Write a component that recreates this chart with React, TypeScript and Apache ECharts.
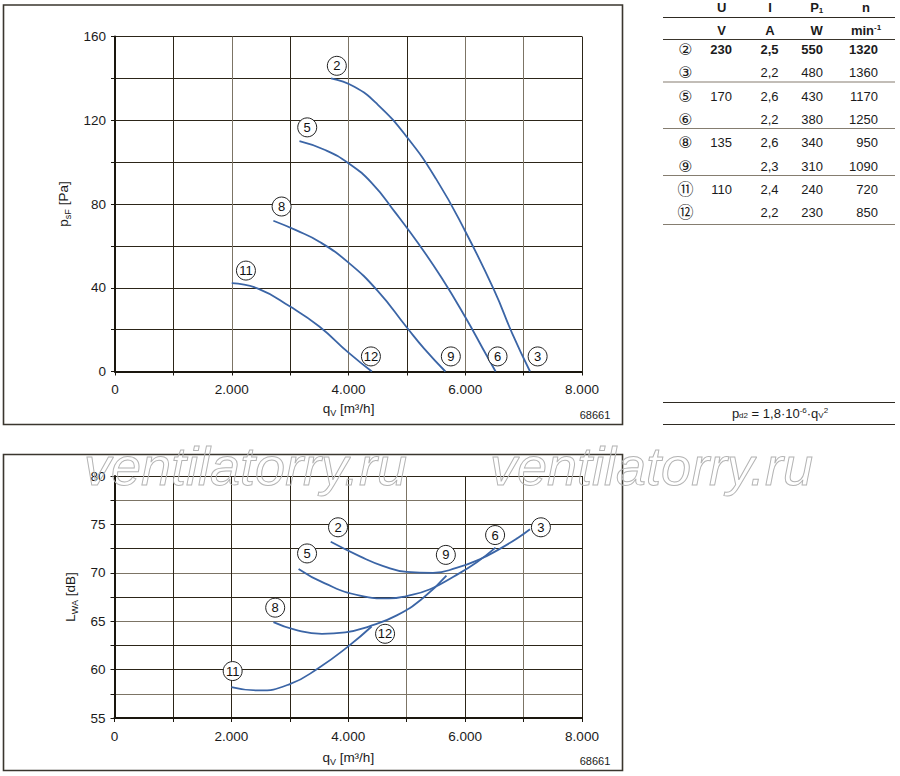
import React, { useEffect, useRef } from "react";
import * as echarts from "echarts";

// ---------- data ----------
// Pressure curves p_sF [Pa] vs q_V [m³/h]
const pressure2: [number, number][] = [[3700, 140], [4100, 136], [4500, 127.5], [5000, 112], [5500, 92], [6000, 67], [6500, 38.5], [6800, 18.5], [7110, 0]];
const pressure5: [number, number][] = [[3160, 110], [3600, 105.8], [4000, 99.5], [4400, 90], [4800, 76], [5200, 61], [5600, 44.5], [6000, 26], [6300, 11], [6520, 0]];
const pressure8: [number, number][] = [[2713, 72], [3100, 67.5], [3500, 62], [4000, 52], [4500, 38.5], [5000, 21], [5300, 10.8], [5660, 0]];
const pressure11: [number, number][] = [[2000, 42.2], [2450, 39.6], [3000, 31], [3500, 21.5], [4000, 9], [4400, 0]];

// Sound power curves L_WA [dB] vs q_V [m³/h]
const sound2: [number, number][] = [[3700, 73.2], [4200, 71.7], [4600, 70.7], [5000, 70.1], [5450, 70.0], [5850, 70.5], [6250, 71.4], [6600, 72.5], [6900, 73.6], [7110, 74.5]];
const sound5: [number, number][] = [[3150, 70.4], [3600, 68.9], [4200, 67.65], [4700, 67.35], [5000, 67.6], [5400, 68.3], [5800, 69.6], [6200, 71.1], [6520, 72.6]];
const sound8: [number, number][] = [[2720, 64.9], [3100, 64.1], [3550, 63.7], [3950, 63.85], [4350, 64.45], [4830, 65.6], [5280, 67.4], [5680, 69.7]];
const sound11: [number, number][] = [[2000, 58.2], [2450, 57.85], [3000, 58.5], [3500, 60.2], [4000, 62.4], [4400, 64.45]];

// Curve markers (q, value, number)
const pressureMarkers: [number, number, string][] = [[3800, 146, "2"], [3293, 116.6, "5"], [2854, 78.8, "8"], [2243, 48.2, "11"], [4384, 7.2, "12"], [5753, 7.2, "9"], [6553, 7.2, "6"], [7240, 7.2, "3"]];
const soundMarkers: [number, number, string][] = [[3825, 74.7, "2"], [3295, 72.0, "5"], [2750, 66.4, "8"], [2022, 59.85, "11"], [4630, 63.7, "12"], [5670, 71.85, "9"], [6513, 73.9, "6"], [7297, 74.7, "3"]];

// Axis ticks
const qTicks = [0, 1000, 2000, 3000, 4000, 5000, 6000, 7000, 8000];
const pressureTicks = [0, 40, 80, 120, 160];
const soundTicks = [55, 60, 65, 70, 75, 80];

// Table
const tableHeadTop = ["U", "I", "P", "n"];
const tableHeadUnit = ["V", "A", "W", "min"];
const tableCurve = ["②", "③", "⑤", "⑥", "⑧", "⑨", "⑪", "⑫"];
const tableU = ["230", "", "170", "", "135", "", "110", ""];
const tableI = ["2,5", "2,2", "2,6", "2,2", "2,6", "2,3", "2,4", "2,2"];
const tableP = ["550", "480", "430", "380", "340", "310", "240", "230"];
const tableN = ["1320", "1360", "1170", "1250", "950", "1090", "720", "850"];
const drawingNo = "68661";
const watermark = "ventilatorry.ru";

// ---------- style ----------
const FONT = '"Liberation Sans", Arial, Helvetica, sans-serif';
const CURVE = "#3b65a6";
const D = "#2c2518";
const G = "#7c7465";
const INK = "#1b1b1b";

const fmtQ = (v: number) => (v === 0 ? "0" : `${v / 1000}.000`);

function xAxis(gridIndex: number, colors: string[], nameGap: number) {
  return {
    type: "value",
    gridIndex,
    min: 0,
    max: 8000,
    interval: 1000,
    name: "{m|q}{s|V}{m| [m³/h]}",
    nameLocation: "middle",
    nameGap,
    nameTextStyle: {
      rich: {
        m: { fontSize: 13.5, fontFamily: FONT, color: INK, lineHeight: 18 },
        s: { fontSize: 9, fontFamily: FONT, color: INK, verticalAlign: "bottom", lineHeight: 10 },
      },
    },
    axisLine: { show: true, onZero: false, lineStyle: { color: "#1a160e", width: 2 } },
    axisTick: { show: true, length: 4, lineStyle: { color: "#1a160e", width: 1 } },
    axisLabel: {
      margin: 11,
      fontSize: 13.5,
      fontFamily: FONT,
      color: INK,
      formatter: (v: number) => (qTicks.indexOf(v) % 2 === 0 ? fmtQ(v) : ""),
    },
    splitLine: { show: true, lineStyle: { color: colors, width: 1 } },
  };
}

function yAxis(gridIndex: number, min: number, max: number, interval: number, labels: number[], name: string, colors: string[]) {
  return {
    type: "value",
    gridIndex,
    min,
    max,
    interval,
    name,
    nameLocation: "middle",
    nameGap: 34,
    nameTextStyle: {
      rich: {
        m: { fontSize: 13.5, fontFamily: FONT, color: INK, lineHeight: 18 },
        s: { fontSize: 9, fontFamily: FONT, color: INK, verticalAlign: "bottom", lineHeight: 10 },
      },
    },
    axisLine: { show: true, onZero: false, lineStyle: { color: "#1a160e", width: 2 } },
    axisTick: { show: true, length: 4, lineStyle: { color: "#1a160e", width: 1 } },
    axisLabel: {
      margin: 9,
      fontSize: 13.5,
      fontFamily: FONT,
      color: INK,
      formatter: (v: number) => (labels.indexOf(v) >= 0 ? String(v) : ""),
    },
    splitLine: { show: true, lineStyle: { color: colors, width: 1 } },
  };
}

function curve(data: [number, number][], idx: number) {
  return {
    type: "line",
    xAxisIndex: idx,
    yAxisIndex: idx,
    data,
    showSymbol: false,
    smooth: 0.5,
    silent: true,
    lineStyle: { color: CURVE, width: 1.8 },
    z: 3,
  };
}

function markers(data: [number, number, string][], idx: number) {
  return {
    type: "scatter",
    xAxisIndex: idx,
    yAxisIndex: idx,
    data,
    symbol: "circle",
    symbolSize: 19,
    silent: true,
    itemStyle: { color: "#ffffff", borderColor: "#222", borderWidth: 1, opacity: 1 },
    label: {
      show: true,
      position: "inside",
      formatter: (p: any) => p.value[2],
      fontSize: 13,
      fontFamily: FONT,
      color: "#111",
    },
    z: 4,
  };
}

function txt(text: string, x: number, y: number, opts: any = {}) {
  const align = opts.align || "center";
  return {
    type: "text",
    x,
    y,
    silent: true,
    z: 10,
    style: {
      text,
      fill: opts.fill || INK,
      font: `${opts.bold ? "bold " : ""}${opts.size || 13}px ${opts.family || FONT}`,
      align,
      textAlign: align,
      verticalAlign: "middle",
      textVerticalAlign: "middle",
      rich: opts.rich,
    },
  };
}

function hline(y: number, x1: number, x2: number, color: string, w = 1) {
  return { type: "line", silent: true, z: 9, shape: { x1, y1: y, x2, y2: y }, style: { stroke: color, lineWidth: w } };
}

function buildGraphics() {
  const g: any[] = [];
  // watermark (outlined)
  [84, 490].forEach((x) => {
    g.push({
      type: "text",
      x,
      y: 466,
      silent: true,
      z: 100,
      style: {
        legacy: false,
        text: watermark,
        font: `italic 54px ${FONT}`,
        fill: "none",
        stroke: "#b4b4b4",
        lineWidth: 1,
        align: "left",
        verticalAlign: "middle",
      },
    });
  });
  // frames
  g.push({ type: "rect", silent: true, z: 1, shape: { x: 3.5, y: 5, width: 619, height: 419.5 }, style: { fill: "none", stroke: "#3a362e", lineWidth: 1.6 } });
  g.push({ type: "rect", silent: true, z: 1, shape: { x: 3.5, y: 454.5, width: 619, height: 316 }, style: { fill: "none", stroke: "#3a362e", lineWidth: 1.6 } });
  // drawing number
  g.push(txt(drawingNo, 595, 415, { size: 11 }));
  g.push(txt(drawingNo, 595, 761, { size: 11 }));

  // table
  const colX = [721.7, 770, 816.7, 866];
  const richHead = {
    b: { fontSize: 13, fontWeight: "bold", fontFamily: FONT, fill: INK, color: INK },
    sub: { fontSize: 8, fontWeight: "bold", fontFamily: FONT, fill: INK, color: INK, verticalAlign: "bottom" },
    sup: { fontSize: 8, fontWeight: "bold", fontFamily: FONT, fill: INK, color: INK, verticalAlign: "top" },
  };
  tableHeadTop.forEach((h, i) => {
    const t = h === "P" ? "{b|P}{sub|1}" : `{b|${h}}`;
    g.push(txt(t, colX[i], 7.5, { rich: richHead }));
  });
  tableHeadUnit.forEach((h, i) => {
    const t = h === "min" ? "{b|min}{sup|-1}" : `{b|${h}}`;
    g.push(txt(t, colX[i], 30, { rich: richHead }));
  });
  g.push(hline(17.5, 663, 895, "#2e2a22", 1.2));
  g.push(hline(39.5, 663, 895, "#3a352c", 1.2));
  [82, 128.5, 175.5].forEach((y) => g.push(hline(y, 663, 895, "#857d70", 1.2)));
  g.push(hline(224.5, 663, 895, "#857d70", 1.2));

  tableCurve.forEach((c, i) => {
    const y = 49.5 + i * 23.35;
    const bold = i === 0;
    g.push(txt(c, 685.5, y, { size: 16, family: '"DejaVu Sans", "Noto Sans CJK SC", sans-serif' }));
    if (tableU[i]) g.push(txt(tableU[i], 732, y, { align: "right", bold }));
    g.push(txt(tableI[i], 778.5, y, { align: "right", bold }));
    g.push(txt(tableP[i], 823, y, { align: "right", bold }));
    g.push(txt(tableN[i], 878, y, { align: "right", bold }));
  });

  // formula
  g.push(hline(402.5, 663, 895, "#2e2a22", 1.2));
  g.push(hline(424.5, 663, 895, "#2e2a22", 1.2));
  g.push(
    txt("{m|p}{s|d2}{m| = 1,8·10}{u|-6}{m|·q}{s|V}{u|2}", 780, 413, {
      rich: {
        m: { fontSize: 13, fontFamily: FONT, fill: INK, color: INK },
        s: { fontSize: 8, fontFamily: FONT, fill: INK, color: INK, verticalAlign: "bottom" },
        u: { fontSize: 8, fontFamily: FONT, fill: INK, color: INK, verticalAlign: "top" },
      },
    })
  );
  return g;
}

export default function App() {
  const ref = useRef<HTMLDivElement>(null);
  useEffect(() => {
    if (!ref.current) return;
    const chart = echarts.init(ref.current, undefined, { renderer: "svg" });
    const option: any = {
      animation: false,
      backgroundColor: "#ffffff",
      textStyle: { fontFamily: FONT },
      grid: [
        { left: 115, top: 36.5, width: 467, height: 335 },
        { left: 114.5, top: 476, width: 467.5, height: 242 },
      ],
      xAxis: [xAxis(0, [D, D, G, D, G, D, G, G, D], 28), xAxis(1, [D, D, D, D, D, G, D, G, D], 30)],
      yAxis: [
        yAxis(0, 0, 160, 20, pressureTicks, "{m|p}{s|sF}{m| [Pa]}", [D]),
        yAxis(1, 55, 80, 2.5, soundTicks, "{m|L}{s|WA}{m| [dB]}", [D, G, D, D, G, D, G, D, D, G, D]),
      ],
      series: [
        curve(pressure2, 0),
        curve(pressure5, 0),
        curve(pressure8, 0),
        curve(pressure11, 0),
        markers(pressureMarkers, 0),
        curve(sound2, 1),
        curve(sound5, 1),
        curve(sound8, 1),
        curve(sound11, 1),
        markers(soundMarkers, 1),
      ],
      graphic: buildGraphics(),
    };
    chart.setOption(option);
    return () => chart.dispose();
  }, []);
  return <div ref={ref} style={{ position: "absolute", left: 0, top: 0, width: 900, height: 776 }} />;
}
